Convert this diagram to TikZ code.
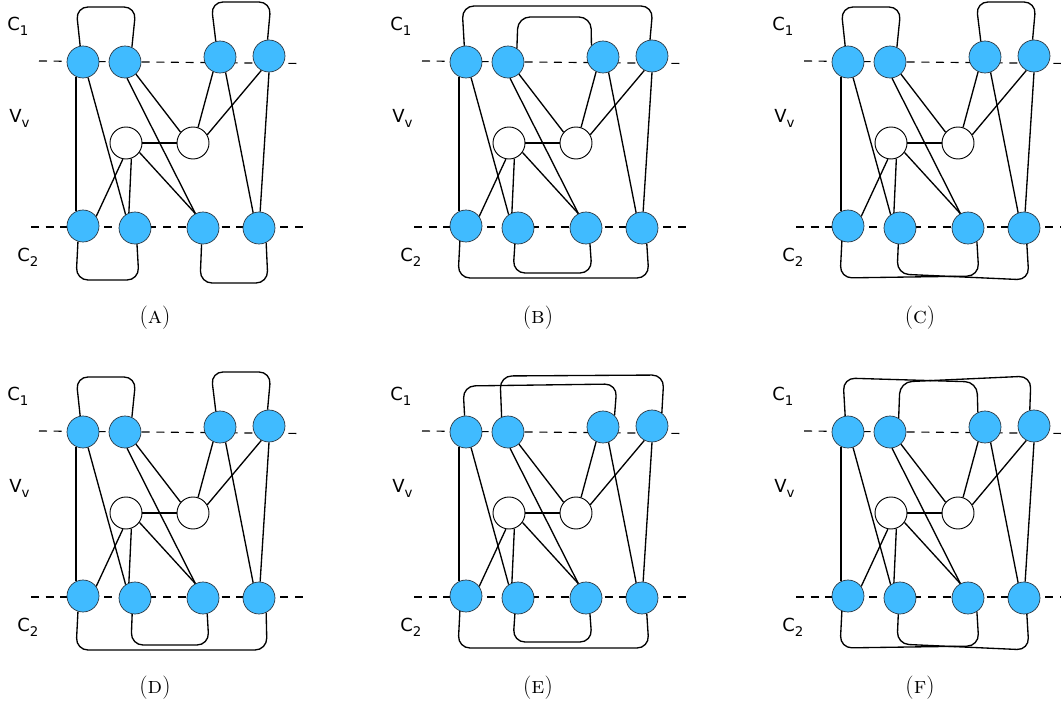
\documentclass[tikz,border=0pt]{standalone}
\usepackage{fontspec}
\newfontfamily\labelfont{DejaVu Sans}
\definecolor{nodeblue}{RGB}{64,187,255}
\newcommand\lsub[1]{\raisebox{-3.5pt}{\fontsize{10}{12}\selectfont #1}}
% shared part of every panel: cut lines, vertices, straight edges, side labels
\newcommand\panelgraph{%
\coordinate (tw) at (39,61);
\coordinate (te) at (302,63.5);
\coordinate (bw) at (31,227);
\coordinate (be) at (303,227);
\draw[sep] (tw) -- (te);
\draw[sep] (bw) -- (be);
\node[cnode] (a1) at (83,62) {};
\node[cnode] (a2) at (125,62) {};
\node[cnode] (a3) at (220,57) {};
\node[cnode] (a4) at (269,56) {};
\node[vnode] (m1) at (126,143) {};
\node[vnode] (m2) at (193,143) {};
\node[cnode] (b1) at (83,226) {};
\node[cnode] (b2) at (135,228) {};
\node[cnode] (b3) at (203,228) {};
\node[cnode] (b4) at (259,228) {};
\draw[link] (a1.245) -- (b1.115);
\draw[link] (a1.288) -- (b2.125);
\draw[link] (a2.312) -- (m2.139);
\draw[link] (a2.277) -- (b3.118);
\draw[link] (a3.245) -- (m2.72);
\draw[link] (a3.290) -- (b4.111);
\draw[link] (a4.242) -- (m2.30);
\draw[link] (a4.270) -- (b4.86);
\draw[link] (m1) -- (m2);
\draw[link] (m1.259) -- (b1.36);
\draw[link] (m1.289) -- (b2.112);
\draw[link] (m1.325) -- (b3.118);
\node[lbl] (c1) at (7,31) {C\lsub{1}};
\node[lbl] (vv) at (9,123) {V\lsub{v}};
\node[lbl] (c2) at (17,262) {C\lsub{2}};
}
\begin{document}
\begin{tikzpicture}[x=.75pt,y=-.75pt,
  cnode/.style={circle,fill=nodeblue,draw={rgb,255:red,40;green,50;blue,60},line width=0.5pt,minimum size=24pt,inner sep=0pt},
  vnode/.style={circle,fill=white,draw=black,line width=0.7pt,minimum size=24pt,inner sep=0pt},
  sep/.style={draw=black,line width=0.85pt,dash pattern=on 6pt off 5pt},
  link/.style={draw=black,line width=1pt},
  arch/.style={rounded corners=9pt},
  lbl/.style={anchor=base west,inner sep=0pt,font=\labelfont\fontsize{13.5}{16}\selectfont},
  subcap/.style={inner sep=0pt,font=\fontsize{17.5}{21}\selectfont}]
\path[use as bounding box] (0,0) rectangle (1061,705);
% (A)
\begin{scope}
\panelgraph
\draw[link,arch] (a1.100) -- (76,7) -- (136,7) -- (a2.65);
\draw[link,arch] (a3.105) -- (211,2) -- (271,2) -- (a4.95);
\draw[link,arch] (b1.252) -- (76,280) -- (139,280) -- (b2.277);
\draw[link,arch] (b3.265) -- (200,283) -- (268,283) -- (b4.296);
\node[subcap] (capA) at (155,318) {(\textsc{a})};
\end{scope}
% (B)
\begin{scope}[shift={(383,0)}]
\panelgraph
\draw[link,arch] (a1.96) -- (79,6) -- (270,6) -- (a4.97);
\draw[link,arch] (a2.57) -- (135,17) -- (208,17) -- (a3.135);
\draw[link,arch] (b1.248) -- (75,278) -- (266,278) -- (b4.287);
\draw[link,arch] (b2.259) -- (130,273) -- (209,273) -- (b3.284);
\node[subcap] (capB) at (155,318) {(\textsc{b})};
\end{scope}
% (C)
\begin{scope}[shift={(765,0)}]
\panelgraph
\draw[link,arch] (a1.100) -- (76,7) -- (136,7) -- (a2.65);
\draw[link,arch] (a3.105) -- (211,2) -- (271,2) -- (a4.95);
\draw[link,arch] (b1.248) -- (75,278) -- (214,276) -- (b3.303);
\draw[link,arch] (b2.264) -- (132,274) -- (264,280) -- (b4.280);
\node[subcap] (capC) at (155,318) {(\textsc{c})};
\end{scope}
% (D)
\begin{scope}[shift={(0,370)}]
\panelgraph
\draw[link,arch] (a1.100) -- (76,7) -- (136,7) -- (a2.65);
\draw[link,arch] (a3.105) -- (211,2) -- (271,2) -- (a4.95);
\draw[link,arch] (b1.252) -- (76,280) -- (267,280) -- (b4.296);
\draw[link,arch] (b2.260) -- (131,275) -- (209,275) -- (b3.285);
\node[subcap] (capD) at (155,318) {(\textsc{d})};
\end{scope}
% (E)
\begin{scope}[shift={(383,370)}]
\panelgraph
\draw[link,arch] (a1.95) -- (80,16) -- (234,14) -- (a3.45);
\draw[link,arch] (a2.113) -- (117,6) -- (281,5) -- (a4.53);
\draw[link,arch] (b1.248) -- (75,278) -- (266,278) -- (b4.287);
\draw[link,arch] (b2.259) -- (130,272) -- (209,272) -- (b3.284);
\node[subcap] (capE) at (155,318) {(\textsc{e})};
\end{scope}
% (F)
\begin{scope}[shift={(765,370)}]
\panelgraph
\draw[link,arch] (a1.100) -- (78,8) -- (212,12) -- (a3.116);
\draw[link,arch] (a2.58) -- (135,12) -- (266,6) -- (a4.105);
\draw[link,arch] (b1.248) -- (75,278) -- (214,276) -- (b3.303);
\draw[link,arch] (b2.264) -- (132,274) -- (264,280) -- (b4.280);
\node[subcap] (capF) at (155,318) {(\textsc{f})};
\end{scope}
\end{tikzpicture}
\end{document}
